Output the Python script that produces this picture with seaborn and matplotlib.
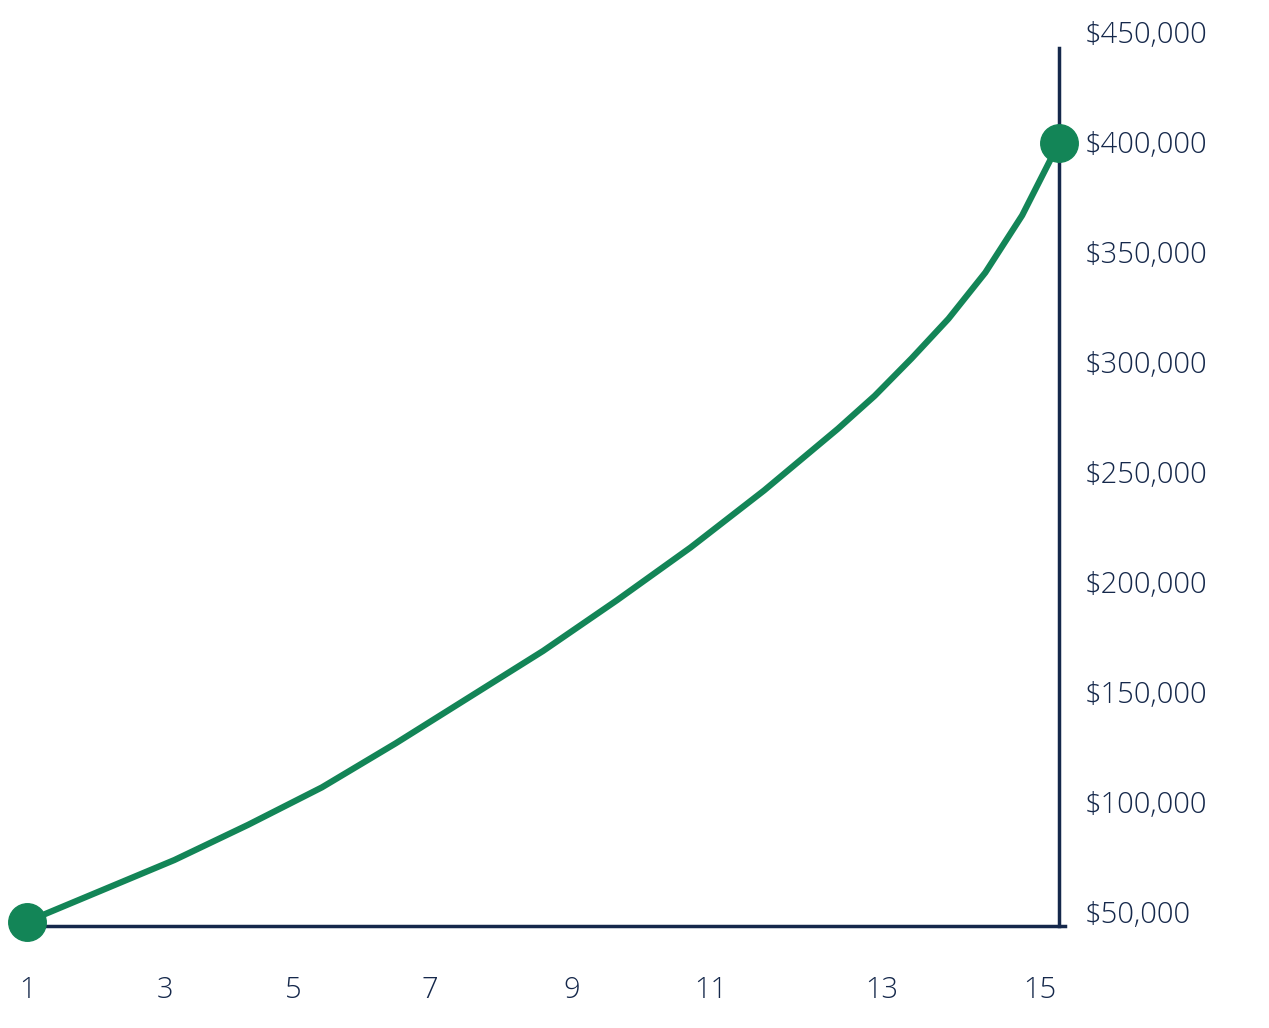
import matplotlib
matplotlib.use("Agg")
import matplotlib.pyplot as plt
import seaborn as sns
import pandas as pd

# values (half steps near the steep end)
periods = [1, 2, 3, 4, 5, 6, 7, 8, 9, 10, 11, 12, 12.5, 13, 13.5, 14, 14.5, 15]
balance = [47000, 61000, 75000, 91000, 108000, 128000, 149000, 170000,
           193000, 217000, 243000, 271000, 286000, 303000, 321000, 342000,
           368000, 401000]
# x tick labels and where they sit (the reference spaces them unevenly)
xtick_labels = ["1", "3", "5", "7", "9", "11", "13", "15"]
xtick_pos = [1.0, 2.87, 4.61, 6.47, 8.39, 10.27, 12.6, 14.74]
ytick_vals = [50000, 100000, 150000, 200000, 250000, 300000, 350000, 400000, 450000]

navy = "#15284b"
green = "#138557"

sns.set_theme(style="white")
plt.rcParams["font.family"] = ["Open Sans", "DejaVu Sans"]

fig = plt.figure(figsize=(12.69, 10.28), dpi=100)
ax = fig.add_axes([27 / 1269, 1 - 926 / 1028, (1059 - 27) / 1269, (926 - 48) / 1028])

df = pd.DataFrame({"period": periods, "balance": balance})
sns.lineplot(data=df, x="period", y="balance", ax=ax, color=green, linewidth=4.5)
ax.plot([periods[0], periods[-1]], [balance[0], balance[-1]], "o", color=green,
        markersize=27, clip_on=False, zorder=5)

ymin, ymax = 45000, 444100
ax.set_xlim(1, 15)
ax.set_ylim(ymin, ymax)
ax.set_xlabel("")
ax.set_ylabel("")

for s in ["top", "left"]:
    ax.spines[s].set_visible(False)
for s in ["right", "bottom"]:
    ax.spines[s].set_color(navy)
    ax.spines[s].set_linewidth(2.5)
ax.spines["bottom"].set_bounds(1, 15.08)

ax.set_xticks(xtick_pos)
ax.set_xticklabels(xtick_labels, fontweight="light")
ax.tick_params(axis="x", length=0, pad=36, labelsize=21, labelcolor=navy)
ax.set_yticks([])

for v in ytick_vals:
    ax.text(1.0 + 26 / 1032, (v - ymin) / (ymax - ymin), f"${v:,}",
            transform=ax.transAxes, ha="left", va="center", fontsize=21,
            fontweight="light", color=navy, clip_on=False)
ax.grid(False)

fig.savefig("out.png", dpi=100)
